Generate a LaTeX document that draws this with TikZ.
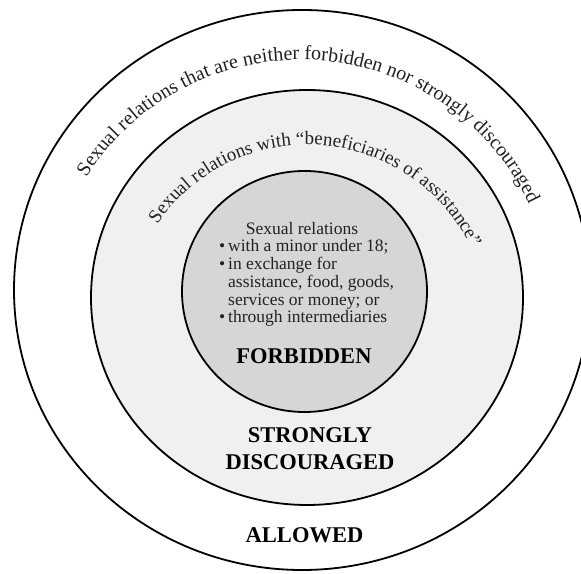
\documentclass[tikz,border=0pt]{standalone}
\usepackage{fontspec}
\setmainfont{Liberation Serif}
\usepackage{tikz}
\usepackage{xcolor}
\usetikzlibrary{decorations.text}
\definecolor{ring-light}{HTML}{F0F0F0}
\definecolor{ring-dark}{HTML}{D6D6D6}
\definecolor{ink}{HTML}{222222}
\tikzset{
    zone-ring/.style = {draw=black, line width=1.8pt},
    zone-label/.style = {font=\fontsize{22.5}{27}\selectfont\bfseries, text=black, inner sep=0pt, align=center},
    rule-line/.style = {font=\fontsize{17.5}{17.75}\selectfont, text=ink, inner sep=0pt, anchor=base west},
}
\newcommand{\itm}{\makebox[9pt][l]{\textbullet}}

\begin{document}
\begin{tikzpicture}[x=1pt, y=1pt]
\useasboundingbox (0,0) rectangle (581,573);
\draw[zone-ring, fill=white] (302,283) ellipse [x radius=288, y radius=280];
\draw[zone-ring, fill=ring-light] (307,275.5) ellipse [x radius=216, y radius=207.5];
\draw[zone-ring, fill=ring-dark] (304.5,281.5) ellipse [x radius=122.5, y radius=120.5];

% curved titles
\path[decorate, decoration={text along path, text align=center,
    text={|\fontsize{20}{24}\selectfont\color{ink}|Sexual relations that are neither forbidden nor strongly discouraged}}]
    (300.3,259.6) ++(152:253.6) arc[start angle=152, end angle=21, radius=253.6];
\path[decorate, decoration={text along path, text align=center,
    text={|\fontsize{19}{23}\selectfont\color{ink}|Sexual relations with “beneficiaries of assistance”}}]
    (307.5,246.75) ++(155:181.4) arc[start angle=155, end angle=16.4, radius=181.4];

% inner list
\node[rule-line, anchor=base] (rules-title) at (302,338) {Sexual relations};
\foreach \txt [count=\i from 0] in {{\itm with a minor under 18;}, {\itm in exchange for},
    {\hspace*{9pt}assistance, food, goods,}, {\hspace*{9pt}services or money; or}, {\itm through intermediaries}}
    \node[rule-line] (rule-\i) at (219,321-17.75*\i) {\txt};

\node[zone-label] (forbidden) at (304,217) {FORBIDDEN};
\node[zone-label] (discouraged) at (310,124.5) {STRONGLY\\DISCOURAGED};
\node[zone-label] (allowed) at (304.5,38) {ALLOWED};
\end{tikzpicture}
\end{document}
